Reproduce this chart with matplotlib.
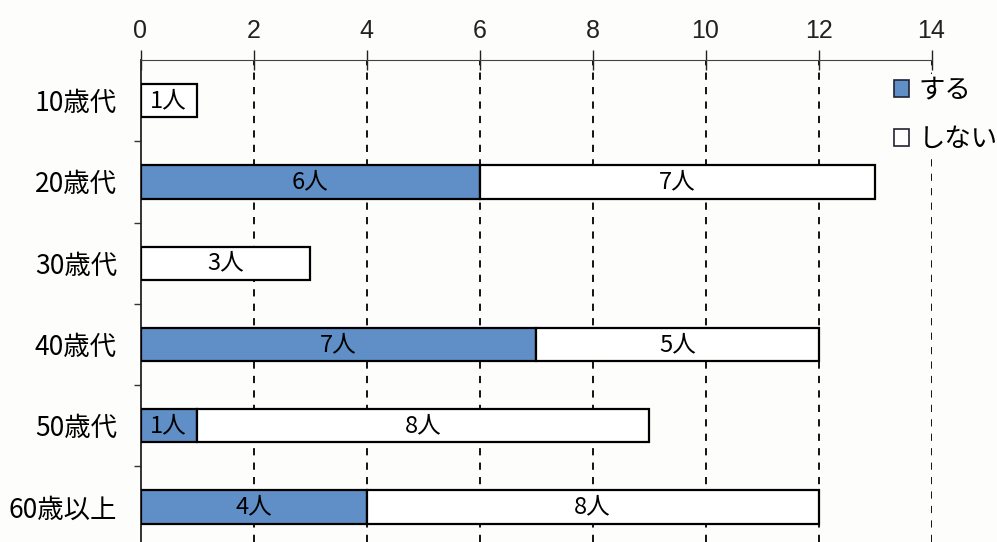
import numpy as np
import matplotlib.pyplot as plt
from matplotlib.patches import Patch
from matplotlib.ticker import FixedLocator

plt.rcParams['font.family'] = ['Noto Sans CJK JP', 'DejaVu Sans']

categories = ['10歳代', '20歳代', '30歳代', '40歳代', '50歳代', '60歳以上']
suru = [0, 6, 0, 7, 1, 4]
shinai = [1, 7, 3, 5, 8, 8]
legend_labels = ['する', 'しない']
xticks = [0, 2, 4, 6, 8, 10, 12, 14]

blue = '#5f8fc6'
bg = '#fdfdfb'

fig = plt.figure(figsize=(9.97, 5.42), dpi=100, facecolor=bg)
ax = fig.add_axes([140.5 / 997, 0, 791 / 997, 1 - 60 / 542])
ax.set_facecolor(bg)

y = np.arange(len(categories))
h = 0.41
b1 = ax.barh(y, suru, height=h, color=blue, edgecolor='black', linewidth=1.6, zorder=3)
b2 = ax.barh(y, shinai, left=suru, height=h, color='white', edgecolor='black', linewidth=1.6, zorder=3)

# hide zero-width segments
for r, v in zip(b1, suru):
    if v == 0:
        r.set_visible(False)

ax.bar_label(b1, labels=[f'{v}人' if v else '' for v in suru], label_type='center', fontsize=17)
ax.bar_label(b2, labels=[f'{v}人' if v else '' for v in shinai], label_type='center', fontsize=17)

ax.set_xlim(0, 14)
ax.set_ylim(5.43, -0.5)
ax.xaxis.tick_top()
ax.set_xticks(xticks)
ax.set_xticklabels([str(t) for t in xticks], family=['Liberation Sans'], fontsize=18)
ax.tick_params(axis='x', direction='inout', length=14, width=1.0, pad=5, colors='#222')

ax.set_yticks(y)
ax.set_yticklabels(categories, fontsize=19)
ax.tick_params(axis='y', which='major', length=0, pad=17)
ax.yaxis.set_minor_locator(FixedLocator(np.arange(0.5, len(categories) - 0.5, 1)))
ax.tick_params(axis='y', which='minor', length=5, width=1.0, direction='out', colors='#333')

for t in xticks[1:]:
    ax.axvline(t, color='black', linestyle=(0, (4, 4)), linewidth=1.3, zorder=1)

for s in ['right', 'bottom']:
    ax.spines[s].set_visible(False)
ax.spines['top'].set_color('#444')
ax.spines['left'].set_color('#222')
ax.spines['left'].set_linewidth(1.3)

handles = [Patch(facecolor=blue, edgecolor='#223', linewidth=1.2),
           Patch(facecolor='white', edgecolor='#223', linewidth=1.2)]
fig.legend(handles, legend_labels, loc='upper left', bbox_to_anchor=(891 / 997, 1 - 74 / 542),
           frameon=True, facecolor=bg, edgecolor='none', framealpha=1, fancybox=False,
           fontsize=19, handlelength=0.6, handleheight=0.6, handletextpad=0.35,
           labelspacing=0.85, borderpad=0.1, borderaxespad=0)

fig.savefig('out.png', dpi=100, facecolor=bg)
